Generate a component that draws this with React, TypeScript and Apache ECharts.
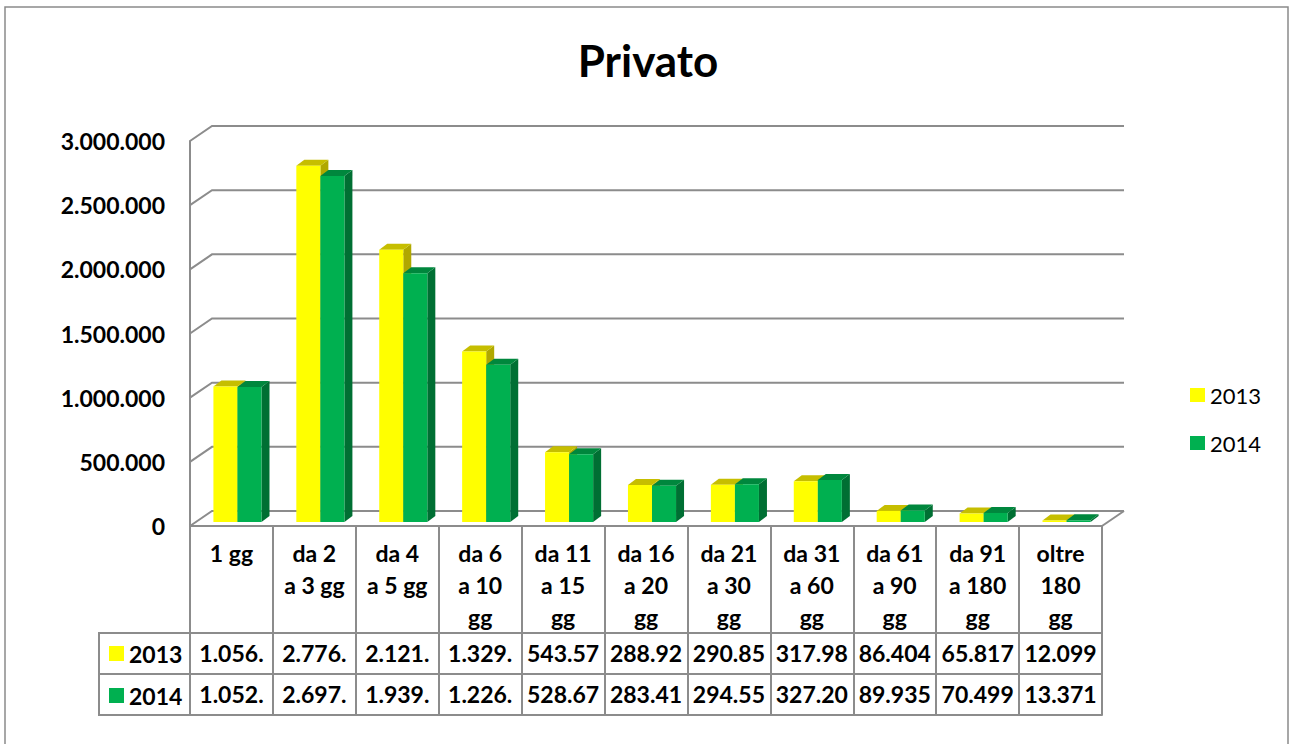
import React, { useEffect, useRef } from "react";
import * as echarts from "echarts";

const categories = [
  "1 gg",
  "da 2\na 3 gg",
  "da 4\na 5 gg",
  "da 6\na 10\ngg",
  "da 11\na 15\ngg",
  "da 16\na 20\ngg",
  "da 21\na 30\ngg",
  "da 31\na 60\ngg",
  "da 61\na 90\ngg",
  "da 91\na 180\ngg",
  "oltre\n180\ngg",
];
const seriesNames = ["2013", "2014"];
const values2013 = [1056000, 2776000, 2121000, 1329000, 543570, 288920, 290850, 317980, 86404, 65817, 12099];
const values2014 = [1052000, 2697000, 1939000, 1226000, 528670, 283410, 294550, 327200, 89935, 70499, 13371];
const yTicks = [0, 500000, 1000000, 1500000, 2000000, 2500000, 3000000];

const FONT = "Lato";
const GRID_COLOR = "#8c8c8c";
const BOLD_SIZE = 23;

const fmt = (v: number) => Math.round(v).toString().replace(/\B(?=(\d{3})+(?!\d))/g, ".");
const cell = (v: number) => fmt(v).slice(0, 6);

const palettes = [
  { front: "#FFFF00", top: "#C6BE00", side: "#B0A800" },
  { front: "#00B050", top: "#00873D", side: "#006F33" },
];

function barRender(shift: number, pal: { front: string; top: string; side: string }) {
  return (params: any, api: any) => {
    const idx = api.value(0);
    const val = api.value(1);
    const top = api.coord([idx, val]);
    const base = api.coord([idx, 0]);
    const bw = api.size([1, 0])[0] * 0.29;
    const px = 6, py = -4, dx = 8, dy = -6;
    const x0 = top[0] + shift * bw + px;
    const x1 = x0 + bw;
    const yt = top[1] + py;
    const yb = base[1] + py;
    return {
      type: "group",
      children: [
        {
          type: "polygon",
          shape: { points: [[x1, yt], [x1 + dx, yt + dy], [x1 + dx, yb + dy], [x1, yb]] },
          style: { fill: pal.side },
        },
        {
          type: "polygon",
          shape: { points: [[x0, yt], [x0 + dx, yt + dy], [x1 + dx, yt + dy], [x1, yt]] },
          style: { fill: pal.top },
        },
        {
          type: "rect",
          shape: { x: x0, y: yt, width: bw, height: Math.max(yb - yt, 0) },
          style: { fill: pal.front },
        },
      ],
    };
  };
}

function wallRender(params: any, api: any) {
  const cs = params.coordSys;
  const v = api.value(0);
  const y = api.coord([0, v])[1];
  const dx = 22, dy = -15;
  const children: any[] = [
    {
      type: "polyline",
      shape: { points: [[cs.x, y], [cs.x + dx, y + dy], [cs.x + cs.width + dx, y + dy]] },
      style: { stroke: GRID_COLOR, lineWidth: 2, fill: "none" },
    },
  ];
  if (v === 0) {
    children.push({
      type: "line",
      shape: { x1: cs.x + cs.width, y1: y, x2: cs.x + cs.width + dx, y2: y + dy },
      style: { stroke: GRID_COLOR, lineWidth: 2 },
    });
  }
  return { type: "group", children };
}

const axisLineStyle = { show: true, lineStyle: { color: GRID_COLOR, width: 2 } };

export default function App() {
  const ref = useRef<HTMLDivElement>(null);
  useEffect(() => {
    if (!ref.current) return;
    const chart = echarts.init(ref.current, null, { renderer: "svg" });
    const tableRows = [values2013, values2014];
    chart.setOption({
      animation: false,
      backgroundColor: "#ffffff",
      textStyle: { fontFamily: FONT },
      title: {
        text: "Privato",
        left: 643,
        textAlign: "center",
        top: 33,
        textStyle: { fontFamily: FONT, fontWeight: "bold", fontSize: 44, color: "#000" },
      },
      legend: [
        {
          data: seriesNames,
          orient: "vertical",
          left: 1185,
          top: 379,
          itemWidth: 15,
          itemHeight: 14,
          itemGap: 26,
          icon: "rect",
          selectedMode: false,
          textStyle: { fontFamily: FONT, fontSize: 22, color: "#000" },
        },
        {
          data: seriesNames,
          orient: "vertical",
          left: 104,
          top: 637,
          itemWidth: 15,
          itemHeight: 15,
          itemGap: 19,
          icon: "rect",
          selectedMode: false,
          textStyle: { fontFamily: FONT, fontSize: BOLD_SIZE, fontWeight: "bold", color: "#000" },
        },
      ],
      grid: { left: 190, top: 141, width: 912, height: 385 },
      xAxis: [
        {
          type: "category",
          data: categories,
          position: "bottom",
          axisLine: axisLineStyle,
          axisTick: { show: true, length: 107, lineStyle: { color: GRID_COLOR, width: 2 } },
          axisLabel: {
            interval: 0,
            margin: 11,
            fontFamily: FONT,
            fontWeight: "bold",
            fontSize: BOLD_SIZE,
            lineHeight: 32,
            color: "#000",
            verticalAlign: "top",
          },
        },
        ...tableRows.map((row, r) => ({
          type: "category",
          data: categories,
          position: "bottom",
          offset: r === 0 ? 107 : 148,
          axisLine: axisLineStyle,
          axisTick: { show: true, length: 41, lineStyle: { color: GRID_COLOR, width: 2 } },
          axisLabel: {
            interval: 0,
            margin: 7,
            fontFamily: FONT,
            fontWeight: "bold",
            fontSize: BOLD_SIZE,
            lineHeight: 26,
            color: "#000",
            verticalAlign: "top",
            formatter: (_: string, i: number) => cell(row[i]),
          },
        })),
        {
          type: "category",
          data: categories,
          position: "bottom",
          offset: 189,
          axisLine: axisLineStyle,
          axisTick: { show: false },
          axisLabel: { show: false },
        },
      ],
      yAxis: {
        type: "value",
        min: 0,
        max: 3000000,
        interval: 500000,
        axisLine: axisLineStyle,
        axisTick: { show: false },
        splitLine: { show: false },
        axisLabel: {
          margin: 25,
          fontFamily: FONT,
          fontWeight: "bold",
          fontSize: BOLD_SIZE,
          color: "#000",
          formatter: (v: number) => fmt(v),
        },
      },
      graphic: [
        {
          type: "rect",
          shape: { x: 5, y: 7, width: 1283, height: 800 },
          style: { fill: "none", stroke: "#8a8a8a", lineWidth: 1.5 },
          silent: true,
        },
        {
          type: "polyline",
          shape: { points: [[190, 633], [99, 633], [99, 715], [190, 715]] },
          style: { stroke: GRID_COLOR, lineWidth: 2, fill: "none" },
          silent: true,
        },
        {
          type: "line",
          shape: { x1: 99, y1: 674, x2: 190, y2: 674 },
          style: { stroke: GRID_COLOR, lineWidth: 2 },
          silent: true,
        },
      ],
      series: [
        {
          type: "custom",
          name: "walls",
          silent: true,
          clip: false,
          renderItem: wallRender,
          data: yTicks.map((v) => [v]),
          z: 1,
        },
        {
          type: "custom",
          name: seriesNames[0],
          clip: false,
          itemStyle: { color: palettes[0].front },
          renderItem: barRender(-1, palettes[0]),
          data: values2013.map((v, i) => [i, v]),
          z: 2,
        },
        {
          type: "custom",
          name: seriesNames[1],
          clip: false,
          itemStyle: { color: palettes[1].front },
          renderItem: barRender(0, palettes[1]),
          data: values2014.map((v, i) => [i, v]),
          z: 3,
        },
      ],
    });
    return () => chart.dispose();
  }, []);
  return (
    <div
      ref={ref}
      style={{ position: "absolute", left: 0, top: 0, width: 1291, height: 744, background: "#fff" }}
    />
  );
}
